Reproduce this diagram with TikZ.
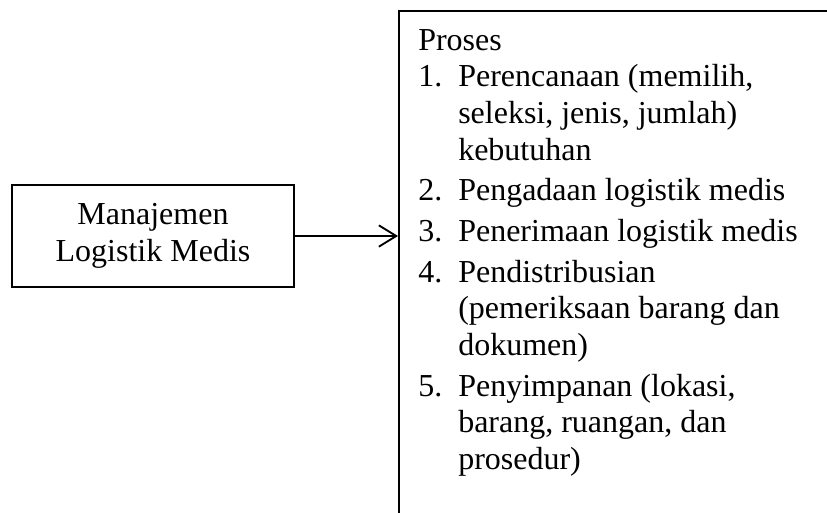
\documentclass[tikz,border=0pt]{standalone}
\usepackage{fontspec}
\setmainfont{Liberation Serif}
\usepackage{tikz}
\usetikzlibrary{positioning,arrows.meta}

\begin{document}
\begin{tikzpicture}[x=0.75pt,y=-0.75pt,
  b/.style={draw,line width=1.8pt,inner sep=0pt,align=center,
            font=\fontsize{24}{28}\selectfont},
  a/.style={-{Straight Barb[length=13pt,width=16pt]},line width=1.4pt}]
  \useasboundingbox (0,0) rectangle (827,512);
  \clip (0,0) rectangle (827,512);
  \node[b,minimum width=211.5pt,minimum height=76.5pt] (mlm) at (153,236) {Manajemen\\Logistik Medis};
  \node[b,anchor=north west,minimum width=380pt,minimum height=450pt] (proses) at (398,10) {};
  \node[anchor=base west,inner sep=0pt,font=\fontsize{24}{27.5}\selectfont] (isi) at (418,50)
  {\begin{tabular}[t]{@{}l@{\hspace{12pt}}l@{}}
    \multicolumn{2}{@{}l@{}}{Proses}\\
    1. & Perencanaan (memilih,\\
       & seleksi, jenis, jumlah)\\
       & kebutuhan\\[3pt]
    2. & Pengadaan logistik medis\\[3pt]
    3. & Penerimaan logistik medis\\[3pt]
    4. & Pendistribusian\\
       & (pemeriksaan barang dan\\
       & dokumen)\\[3pt]
    5. & Penyimpanan (lokasi,\\
       & barang, ruangan, dan\\
       & prosedur)
  \end{tabular}};
  \draw[a] (mlm) -- (mlm -| proses.west);
\end{tikzpicture}
\end{document}
